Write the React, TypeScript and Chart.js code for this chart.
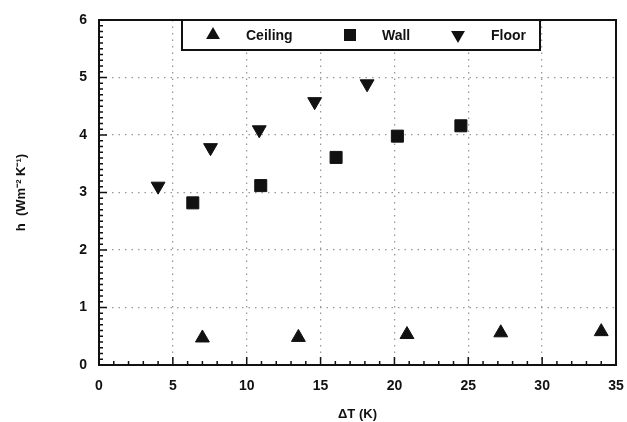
import React, { useEffect, useRef } from "react";
import { Chart, registerables } from "chart.js";
Chart.register(...registerables);

const seriesNames = ["Ceiling", "Wall", "Floor"];
const ceilingX = [7.0, 13.5, 20.85, 27.2, 34.0];
const ceilingY = [0.47, 0.48, 0.53, 0.56, 0.58];
const wallX = [6.35, 10.95, 16.05, 20.2, 24.5];
const wallY = [2.82, 3.12, 3.61, 3.98, 4.16];
const floorX = [4.0, 7.55, 10.85, 14.6, 18.15];
const floorY = [3.11, 3.78, 4.09, 4.58, 4.89];
const xTicks = [0, 5, 10, 15, 20, 25, 30, 35];
const yTicks = [0, 1, 2, 3, 4, 5, 6];

const FONT = "'Liberation Sans', Arial, sans-serif";

const toPts = (xs: number[], ys: number[]) => xs.map((x, i) => ({ x, y: ys[i] }));

function drawMarker(ctx: CanvasRenderingContext2D, o: any, x: number, y: number) {
  const r = o.radius;
  ctx.beginPath();
  if (o.pointStyle === "rect") {
    const s = r / Math.SQRT2;
    ctx.rect(x - s, y - s, 2 * s, 2 * s);
  } else {
    const h = 1.5 * r;
    const side = r * Math.sqrt(3);
    const dir = o.rotation === 180 ? -1 : 1;
    ctx.moveTo(x, y - dir * r);
    ctx.lineTo(x - side / 2, y + dir * (h - r));
    ctx.lineTo(x + side / 2, y + dir * (h - r));
    ctx.closePath();
  }
  ctx.fill();
}

const framePlugin = {
  id: "frame",
  afterDraw(chart: any) {
    const { ctx, chartArea: a, scales } = chart;
    const xs = scales.x;
    const ys = scales.y;
    ctx.save();
    ctx.strokeStyle = "#111";
    ctx.lineWidth = 2;
    ctx.strokeRect(a.left, a.top, a.right - a.left, a.bottom - a.top);
    ctx.lineWidth = 1.5;
    ctx.beginPath();
    for (let v = 0; v <= 35; v += 1) {
      const px = xs.getPixelForValue(v);
      const len = v % 5 === 0 ? 8 : 4;
      ctx.moveTo(px, a.bottom);
      ctx.lineTo(px, a.bottom - len);
    }
    for (let k = 0; k <= 60; k += 1) {
      const py = ys.getPixelForValue(k / 10);
      const len = k % 10 === 0 ? 8 : 4;
      ctx.moveTo(a.left, py);
      ctx.lineTo(a.left + len, py);
    }
    ctx.stroke();

    const lx0 = a.left + 83, ly0 = a.top, lw = 358, lh = 30;
    ctx.fillStyle = "#fff";
    ctx.fillRect(lx0, ly0, lw, lh);
    ctx.lineWidth = 2;
    ctx.strokeStyle = "#111";
    ctx.strokeRect(lx0, ly0, lw, lh);
    const cy = ly0 + lh / 2;
    const items = [
      { mx: lx0 + 31, tx: lx0 + 64 },
      { mx: lx0 + 168, tx: lx0 + 200 },
      { mx: lx0 + 276, tx: lx0 + 309 },
    ];
    chart.data.datasets.forEach((ds: any, i: number) => {
      const it = items[i];
      ctx.fillStyle = "#111";
      drawMarker(ctx, { pointStyle: ds.pointStyle, rotation: ds.rotation || 0, radius: ds.pointRadius }, it.mx, cy);
      ctx.font = `bold 14px ${FONT}`;
      ctx.textBaseline = "middle";
      ctx.textAlign = "left";
      ctx.fillText(ds.label, it.tx, cy + 1);
    });
    ctx.restore();
  },
};

export default function App() {
  const ref = useRef<HTMLCanvasElement>(null);
  useEffect(() => {
    if (!ref.current) return;
    const common = {
      backgroundColor: "#111",
      borderColor: "#111",
      borderWidth: 1,
      showLine: false,
    };
    const chart = new Chart(ref.current, {
      type: "scatter",
      data: {
        datasets: [
          { ...common, label: seriesNames[0], data: toPts(ceilingX, ceilingY), pointStyle: "triangle", pointRadius: 8, rotation: 0 },
          { ...common, label: seriesNames[1], data: toPts(wallX, wallY), pointStyle: "rect", pointRadius: 8.5, rotation: 0 },
          { ...common, label: seriesNames[2], data: toPts(floorX, floorY), pointStyle: "triangle", pointRadius: 8, rotation: 180 },
        ] as any,
      },
      options: {
        animation: false,
        responsive: false,
        maintainAspectRatio: false,
        layout: { padding: { top: 20, right: 11, left: 0, bottom: 0 } },
        plugins: { legend: { display: false }, tooltip: { enabled: false } },
        scales: {
          x: {
            type: "linear",
            min: 0,
            max: 35,
            afterBuildTicks: (s: any) => { s.ticks = xTicks.map((v) => ({ value: v })); },
            afterFit: (s: any) => { s.height = 57; s.paddingRight = 0; s.paddingLeft = 0; },
            ticks: { color: "#111", font: { family: FONT, weight: "bold", size: 14 }, padding: 13 },
            grid: { color: "#999", lineWidth: 1.3, drawTicks: false, tickLength: 0 },
            border: { display: false, dash: [1.5, 5] } as any,
            title: { display: true, text: "ΔT (K)", color: "#111", font: { family: FONT, weight: "bold", size: 13 }, padding: { top: 2, bottom: 0 } },
          },
          y: {
            type: "linear",
            min: 0,
            max: 6,
            afterBuildTicks: (s: any) => { s.ticks = yTicks.map((v) => ({ value: v })); },
            afterFit: (s: any) => { s.width = 99; s.paddingTop = 0; s.paddingBottom = 0; },
            ticks: { color: "#111", font: { family: FONT, weight: "bold", size: 14 }, padding: 12 },
            grid: { color: "#999", lineWidth: 1.3, drawTicks: false, tickLength: 0 },
            border: { display: false, dash: [1.5, 5] } as any,
            title: { display: true, text: "h  (Wm⁻² K⁻¹)", color: "#111", font: { family: FONT, weight: "bold", size: 13 }, padding: { top: 14, bottom: 0 } },
          },
        },
      } as any,
      plugins: [framePlugin],
    });
    return () => chart.destroy();
  }, []);
  return (
    <div style={{ position: "fixed", left: 0, top: 0, width: 627, height: 422, background: "#fff" }}>
      <canvas ref={ref} width={627} height={422} style={{ width: 627, height: 422, display: "block" }} />
    </div>
  );
}
